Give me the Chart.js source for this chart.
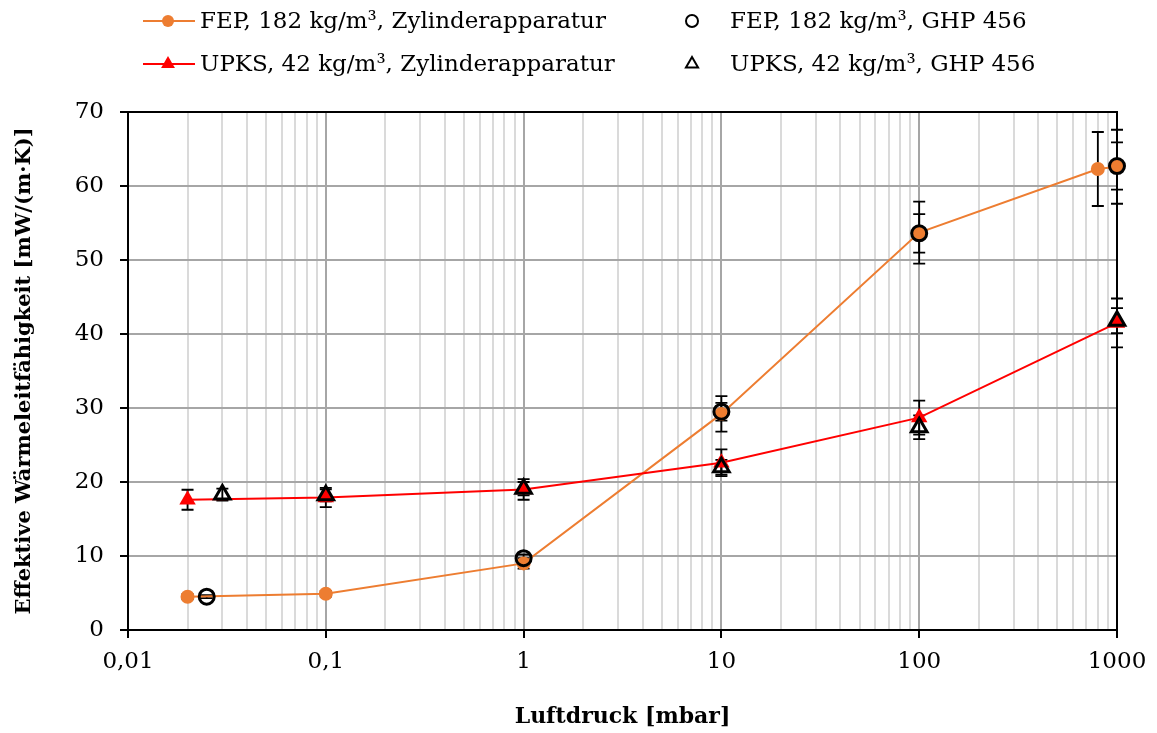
<!DOCTYPE html>
<html>
<head>
<meta charset="utf-8">
<script src="https://cdn.jsdelivr.net/npm/chart.js@4.4.0/dist/chart.umd.min.js"></script>
<style>
  html, body { margin: 0; padding: 0; background: #fff; }
</style>
</head>
<body>
<canvas id="chart" width="1157" height="733"></canvas>
<script>
// x axis: Luftdruck in mbar (log), y axis: Wärmeleitfähigkeit in mW/(m·K)
const xDecades = [0.01, 0.1, 1, 10, 100, 1000];
const xTickLabels = ['0,01', '0,1', '1', '10', '100', '1000'];

const seriesLabels = [
  'FEP, 182 kg/m³, Zylinderapparatur',
  'UPKS, 42 kg/m³, Zylinderapparatur',
  'FEP, 182 kg/m³, GHP 456',
  'UPKS, 42 kg/m³, GHP 456'
];

const fepZylP   = [0.02, 0.1, 1, 10, 100, 800, 1000];
const fepZylK   = [4.5, 4.9, 9.0, 29.2, 53.7, 62.3, 62.6];
const fepZylErr = [0.35, 0.4, 0.7, 2.4, 4.2, 5.0, 5.0];

const upksZylP   = [0.02, 0.1, 1, 10, 100, 1000];
const upksZylK   = [17.6, 17.9, 19.0, 22.6, 28.7, 41.5];
const upksZylErr = [1.35, 1.3, 1.4, 1.8, 2.3, 3.3];

const fepGhpP   = [0.025, 1, 10, 100, 1000];
const fepGhpK   = [4.5, 9.7, 29.5, 53.6, 62.7];
const fepGhpErr = [0.2, 0.5, 1.2, 2.6, 3.2];

const upksGhpP   = [0.03, 0.1, 1, 10, 100, 1000];
const upksGhpK   = [18.3, 18.2, 19.1, 22.0, 27.4, 41.8];
const upksGhpErr = [0.8, 0.8, 0.9, 1.0, 1.6, 1.7];

const FONT = "'DejaVu Serif', serif";
const ORANGE = '#ED7D31';
const RED = '#FF0000';

function pts(xs, ys) {
  return xs.map((x, i) => ({ x: x, y: ys[i] }));
}

function isDecade(v) {
  return xDecades.some(d => Math.abs(v / d - 1) < 1e-6);
}

// error bars, drawn under the markers
const errorBars = {
  id: 'errorBars',
  beforeDatasetsDraw(chart) {
    const ctx = chart.ctx;
    const yScale = chart.scales.y;
    ctx.save();
    ctx.strokeStyle = '#000';
    ctx.lineWidth = 1.8;
    chart.data.datasets.forEach((ds, i) => {
      const meta = chart.getDatasetMeta(i);
      ds.errors.forEach((e, j) => {
        const px = meta.data[j].x;
        const top = yScale.getPixelForValue(ds.data[j].y + e);
        const bot = yScale.getPixelForValue(ds.data[j].y - e);
        ctx.beginPath();
        ctx.moveTo(px, top); ctx.lineTo(px, bot);
        ctx.moveTo(px - 6, top); ctx.lineTo(px + 6, top);
        ctx.moveTo(px - 6, bot); ctx.lineTo(px + 6, bot);
        ctx.stroke();
      });
    });
    ctx.restore();
  }
};

// top and right frame lines
const frame = {
  id: 'frame',
  beforeDatasetsDraw(chart) {
    const { ctx, chartArea: a } = chart;
    ctx.save();
    ctx.strokeStyle = '#000';
    ctx.lineWidth = 2;
    ctx.beginPath();
    ctx.moveTo(a.left, a.top); ctx.lineTo(a.right, a.top); ctx.lineTo(a.right, a.bottom);
    ctx.stroke();
    ctx.restore();
  }
};

// legend in two columns like the original
const legendBox = {
  id: 'legendBox',
  afterDraw(chart) {
    const ctx = chart.ctx;
    const spots = [
      { x: 143, y: 21, line: true, r: 6 },
      { x: 143, y: 64, line: true, r: 8 },
      { x: 692, y: 21, line: false, r: 6 },
      { x: 692, y: 64, line: false, r: 7 }
    ];
    ctx.save();
    ctx.font = '23px ' + FONT;
    ctx.textBaseline = 'middle';
    ctx.fillStyle = '#000';
    chart.data.datasets.forEach((ds, i) => {
      const s = spots[i];
      let mx = s.x, tx = s.x + 38;
      if (s.line) {
        ctx.strokeStyle = ds.borderColor;
        ctx.lineWidth = 2;
        ctx.beginPath();
        ctx.moveTo(s.x, s.y); ctx.lineTo(s.x + 52, s.y);
        ctx.stroke();
        mx = s.x + 25; tx = s.x + 57;
      }
      ctx.fillStyle = ds.pointBackgroundColor;
      ctx.strokeStyle = ds.pointBorderColor;
      Chart.helpers.drawPoint(ctx, {
        pointStyle: ds.pointStyle, rotation: 0,
        radius: s.r, borderWidth: ds.pointBorderWidth
      }, mx, s.y);
      ctx.fillStyle = '#000';
      ctx.fillText(ds.label, tx, s.y + 1);
    });
    ctx.restore();
  }
};

new Chart(document.getElementById('chart'), {
  type: 'line',
  data: {
    datasets: [
      {
        label: seriesLabels[0], data: pts(fepZylP, fepZylK), errors: fepZylErr,
        borderColor: ORANGE, borderWidth: 2, pointStyle: 'circle', pointRadius: 7,
        pointBackgroundColor: ORANGE, pointBorderColor: ORANGE, pointBorderWidth: 0, order: 3
      },
      {
        label: seriesLabels[1], data: pts(upksZylP, upksZylK), errors: upksZylErr,
        borderColor: RED, borderWidth: 2, pointStyle: 'triangle', pointRadius: 9.5,
        pointBackgroundColor: RED, pointBorderColor: RED, pointBorderWidth: 0, order: 2
      },
      {
        label: seriesLabels[2], data: pts(fepGhpP, fepGhpK), errors: fepGhpErr,
        showLine: false, borderColor: '#000', pointStyle: 'circle', pointRadius: 7.5,
        pointBackgroundColor: 'rgba(0,0,0,0)', pointBorderColor: '#000', pointBorderWidth: 3, order: 1
      },
      {
        label: seriesLabels[3], data: pts(upksGhpP, upksGhpK), errors: upksGhpErr,
        showLine: false, borderColor: '#000', pointStyle: 'triangle', pointRadius: 9,
        pointBackgroundColor: 'rgba(0,0,0,0)', pointBorderColor: '#000', pointBorderWidth: 3, order: 0
      }
    ]
  },
  options: {
    responsive: false,
    animation: false,
    devicePixelRatio: 1,
    clip: false,
    elements: { line: { tension: 0 } },
    layout: { padding: { top: 112, right: 40, bottom: 0, left: 0 } },
    plugins: {
      legend: { display: false },
      tooltip: { enabled: false }
    },
    scales: {
      x: {
        type: 'logarithmic',
        min: 0.01,
        max: 1000,
        afterBuildTicks(scale) {
          const t = [];
          xDecades.forEach((d, i) => {
            if (i < xDecades.length - 1) {
              for (let k = 1; k < 10; k++) t.push({ value: d * k });
            } else {
              t.push({ value: d });
            }
          });
          scale.ticks = t;
        },
        afterFit(scale) { scale.height = 103; },
        ticks: {
          autoSkip: false,
          maxRotation: 0,
          padding: 10,
          color: '#000',
          font: { family: FONT, size: 23 },
          callback(value) {
            const i = xDecades.findIndex(d => Math.abs(value / d - 1) < 1e-6);
            return i >= 0 ? xTickLabels[i] : '';
          }
        },
        grid: {
          lineWidth: 2,
          color: c => isDecade(c.tick.value) ? '#a6a6a6' : '#dadada',
          tickColor: c => isDecade(c.tick.value) ? '#000' : 'rgba(0,0,0,0)',
          tickLength: 8
        },
        border: { color: '#000', width: 2 },
        title: {
          display: true,
          text: 'Luftdruck [mbar]',
          color: '#000',
          font: { family: FONT, size: 22, weight: 'bold' },
          padding: { top: 0, bottom: 3 }
        }
      },
      y: {
        min: 0,
        max: 70,
        afterFit(scale) { scale.width = 128; },
        ticks: {
          stepSize: 10,
          padding: 16,
          color: '#000',
          font: { family: FONT, size: 23 }
        },
        grid: {
          lineWidth: 2,
          color: '#a6a6a6',
          tickColor: '#000',
          tickLength: 8
        },
        border: { color: '#000', width: 2 },
        title: {
          display: true,
          text: 'Effektive Wärmeleitfähigkeit [mW/(m·K)]',
          color: '#000',
          font: { family: FONT, size: 21, weight: 'bold' },
          padding: { top: 12, bottom: 0 }
        }
      }
    }
  },
  plugins: [frame, errorBars, legendBox]
});
</script>
</body>
</html>
